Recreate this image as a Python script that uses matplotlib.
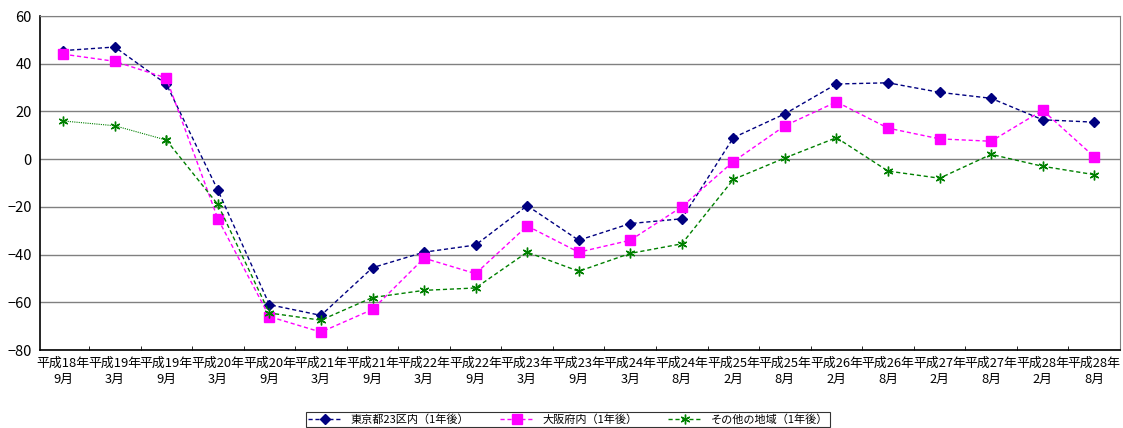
import numpy as np
import matplotlib
matplotlib.use("Agg")
from matplotlib import pyplot as plt

plt.rcParams['font.family'] = ['Noto Sans CJK JP', 'DejaVu Sans']

# category labels (year / month)
years = ['平成18年', '平成19年', '平成19年', '平成20年', '平成20年', '平成21年', '平成21年',
         '平成22年', '平成22年', '平成23年', '平成23年', '平成24年', '平成24年', '平成25年',
         '平成25年', '平成26年', '平成26年', '平成27年', '平成27年', '平成28年', '平成28年']
months = ['9月', '3月', '9月', '3月', '9月', '3月', '9月', '3月', '9月', '3月', '9月',
          '3月', '8月', '2月', '8月', '2月', '8月', '2月', '8月', '2月', '8月']

tokyo = [45.5, 47, 31.5, -13, -61, -65.5, -45.5, -39, -36, -19.5, -34,
         -27, -25, 9, 19, 31.5, 32, 28, 25.5, 16.5, 15.5]
osaka = [44, 41, 34, -25, -66, -72.5, -63, -41.5, -48, -28, -39,
         -34, -20, -1, 14, 24, 13, 8.5, 7.5, 20.5, 1]
others = [16, 14, 8, -19, -64.5, -67.5, -58, -55, -54, -39, -47,
          -39.5, -35.5, -8.5, 0.5, 9, -5, -8, 2, -3, -6.5]

labels = [y + '\n' + m for y, m in zip(years, months)]
x = np.arange(len(labels))

fig = plt.figure(figsize=(11.23, 4.28), dpi=100)
ax = fig.add_axes([40 / 1123, 78 / 428, 1080 / 1123, 334 / 428])

ax.plot(x, tokyo, color='#000080', ls=(0, (3, 2)), lw=1, marker='D', ms=5,
        label='東京都23区内（1年後）')
ax.plot(x, osaka, color='#FF00FF', ls=(0, (3, 2)), lw=1, marker='s', ms=6.5,
        label='大阪府内（1年後）')
# first part of the green line is dotted in the original
ax.plot(x[:3], others[:3], color='#008000', ls=(0, (1, 1)), lw=0.8, marker=(6, 2, 0), ms=7)
ax.plot(x[2:], others[2:], color='#008000', ls=(0, (3, 2)), lw=1, marker=(6, 2, 0), ms=7,
        label='その他の地域（1年後）')

ax.set_xlim(-0.45, 20.5)
ax.set_ylim(-80, 60)
ax.set_yticks(np.arange(-80, 61, 20))
ax.set_yticklabels([str(v).replace('-', '−') for v in range(-80, 61, 20)], fontsize=10.5)
ax.yaxis.grid(True, color='#808080', lw=1)
ax.set_axisbelow(True)

ax.set_xticks(x)
ax.set_xticklabels(labels, fontsize=9.3, linespacing=1.25)
ax.set_xticks(np.arange(0.5, 20, 1), minor=True)
ax.tick_params(axis='x', which='major', length=0, pad=5)
ax.tick_params(axis='x', which='minor', length=3, direction='in')
ax.tick_params(axis='y', length=0, pad=6)

for s in ['top', 'right']:
    ax.spines[s].set_color('#808080')
for s in ['left', 'bottom']:
    ax.spines[s].set_color('black')
    ax.spines[s].set_linewidth(1.2)

leg = fig.legend(loc='upper center', bbox_to_anchor=(568 / 1123, 16 / 428), ncol=3,
                 fontsize=8, frameon=True, fancybox=False, edgecolor='black',
                 handlelength=3, columnspacing=2.8, borderpad=0.2, borderaxespad=0)
leg.get_frame().set_linewidth(0.8)

fig.savefig('out.png', dpi=100)
